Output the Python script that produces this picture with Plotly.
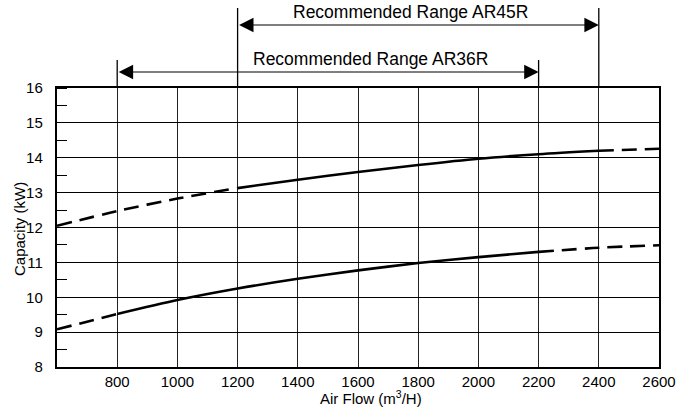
import plotly.graph_objects as go

# ---- data ----
airflow = [600, 800, 1000, 1200, 1400, 1600, 1800, 2000, 2200, 2400, 2600]
capacity_ar45r = [12.05, 12.47, 12.83, 13.13, 13.37, 13.59, 13.79, 13.97, 14.10, 14.20, 14.26]
capacity_ar36r = [9.08, 9.52, 9.92, 10.25, 10.53, 10.77, 10.98, 11.15, 11.30, 11.42, 11.49]

range_ar45r = [1200, 2400]
range_ar36r = [800, 2200]
label_ar45r = "Recommended Range AR45R"
label_ar36r = "Recommended Range AR36R"
x_title = "Air Flow (m<sup>3</sup>/H)"
y_title = "Capacity (kW)"

x_ticks = [800, 1000, 1200, 1400, 1600, 1800, 2000, 2200, 2400, 2600]
y_ticks = [8, 9, 10, 11, 12, 13, 14, 15, 16]

FONT = "Liberation Sans, Arial, Helvetica, sans-serif"

fig = go.Figure()


def add_curve(xs, ys, rng):
    lo, hi = rng
    i_lo = xs.index(lo)
    i_hi = xs.index(hi)
    segs = [
        (xs[: i_lo + 1], ys[: i_lo + 1], "15px,8px"),
        (xs[i_lo: i_hi + 1], ys[i_lo: i_hi + 1], "solid"),
        (xs[i_hi:], ys[i_hi:], "15px,8px"),
    ]
    for sx, sy, dash in segs:
        fig.add_trace(go.Scatter(
            x=sx, y=sy, mode="lines",
            line=dict(color="black", width=2.6, dash=dash, shape="spline", smoothing=0.8),
            showlegend=False, hoverinfo="skip", cliponaxis=False,
        ))


add_curve(airflow, capacity_ar45r, range_ar45r)
add_curve(airflow, capacity_ar36r, range_ar36r)

# plot geometry (pixels) for paper-coordinate placement outside the plot
PLOT_LEFT = 57
PLOT_W = 602
PLOT_TOP = 88
PLOT_H = 279


def py(px):
    return 1 + (PLOT_TOP - px) / PLOT_H


def pxp(px):
    return (px - PLOT_LEFT) / PLOT_W


# vertical range marker lines extending above plot
for xv, top in [(range_ar45r[0], 8), (range_ar45r[1], 8), (range_ar36r[0], 60), (range_ar36r[1], 60)]:
    fig.add_shape(type="line", xref="x", yref="paper", x0=xv, x1=xv, y0=1, y1=py(top),
                  line=dict(color="black", width=1.3))

# arrows
for rng, ypx in [(range_ar45r, 25), (range_ar36r, 72)]:
    fig.add_annotation(x=rng[1], y=py(ypx), xref="x", yref="paper",
                       ax=rng[0], ay=0, axref="x", ayref="pixel",
                       text="", showarrow=True, arrowhead=2, arrowside="end+start",
                       arrowsize=2.4, arrowwidth=1.2, arrowcolor="black",
                       standoff=0, startstandoff=0)

# labels
fig.add_annotation(x=1775, y=py(12), xref="x", yref="paper", text=label_ar45r,
                   showarrow=False, font=dict(family=FONT, size=17.5, color="black"),
                   xanchor="center", yanchor="middle")
fig.add_annotation(x=1640, y=py(59), xref="x", yref="paper", text=label_ar36r,
                   showarrow=False, font=dict(family=FONT, size=17.5, color="black"),
                   xanchor="center", yanchor="middle")

# axis titles
fig.add_annotation(x=pxp(371), y=py(397), xref="paper", yref="paper", text=x_title,
                   showarrow=False, font=dict(family=FONT, size=15, color="black"),
                   xanchor="center", yanchor="middle")
fig.add_annotation(x=pxp(19), y=py(229), xref="paper", yref="paper", text=y_title,
                   showarrow=False, textangle=-90, font=dict(family=FONT, size=15, color="black"),
                   xanchor="center", yanchor="middle")

fig.update_layout(
    width=682, height=414,
    margin=dict(l=57, r=23, t=88, b=47, autoexpand=False),
    paper_bgcolor="white", plot_bgcolor="white",
    font=dict(family=FONT, size=15, color="black"),
    showlegend=False,
)

fig.update_xaxes(
    range=[600, 2600], tickvals=x_ticks, ticktext=[str(v) for v in x_ticks],
    showgrid=True, gridcolor="#222222", gridwidth=1.4,
    showline=True, linecolor="black", linewidth=2.4, mirror=True,
    ticks="", zeroline=False, automargin=False, ticklabelstandoff=0,
    tickfont=dict(size=15),
)
fig.update_yaxes(
    range=[8, 16], tickvals=y_ticks, ticktext=[str(v) for v in y_ticks],
    showgrid=True, gridcolor="black", gridwidth=1.4,
    showline=True, linecolor="black", linewidth=2.4, mirror=True,
    ticks="", zeroline=False, automargin=False, ticklabelstandoff=9,
    minor=dict(dtick=0.5, tick0=8, ticks="inside", ticklen=10, tickwidth=1.2, tickcolor="black", showgrid=False),
    tickfont=dict(size=15),
)

fig.write_html("out.html", config={"displayModeBar": False},
               post_script="document.body.style.margin='0px';document.body.style.overflow='hidden';")
